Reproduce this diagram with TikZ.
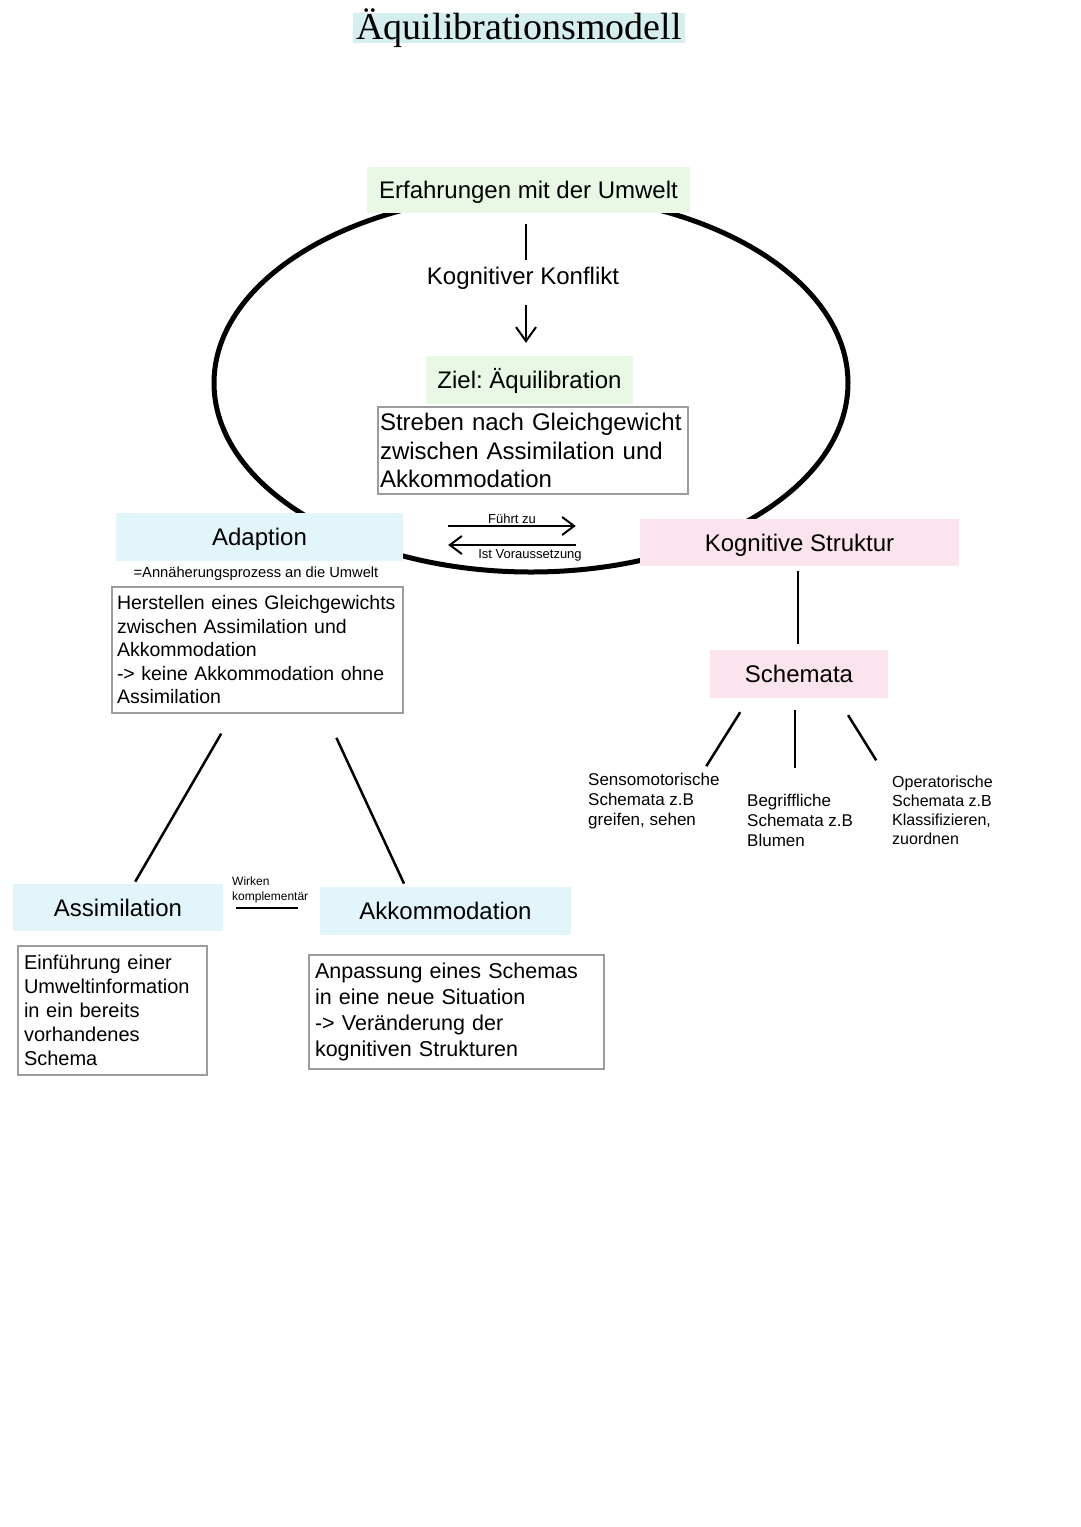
\documentclass[tikz,border=0pt]{standalone}
\usepackage{fontspec}
\setmainfont{Liberation Serif}
\setsansfont{Liberation Sans}
\usepackage{tikz}
\usetikzlibrary{arrows.meta,positioning}
\definecolor{titleteal}{HTML}{D5EEEE}
\definecolor{boxgreen}{HTML}{E8F8E5}
\definecolor{boxblue}{HTML}{E2F5FA}
\definecolor{boxpink}{HTML}{FCE4EF}
\definecolor{framegray}{HTML}{9C9C9C}
\tikzstyle{titlebox}  = [fill=titleteal,inner xsep=3pt,inner ysep=4pt,text height=22pt,text depth=0pt,font=\fontsize{38}{42}\selectfont]
\tikzstyle{headbox}   = [inner sep=0pt,text height=17pt,text depth=0pt,font=\sffamily\fontsize{24}{28}\selectfont]
\tikzstyle{greenbox}  = [headbox,fill=boxgreen]
\tikzstyle{bluebox}   = [headbox,fill=boxblue]
\tikzstyle{pinkbox}   = [headbox,fill=boxpink]
\tikzstyle{descbox}   = [draw=framegray,line width=1.5pt,fill=white,align=left,inner ysep=0pt]
\tikzstyle{note}      = [inner sep=0pt,align=left,font=\sffamily\fontsize{17}{20}\selectfont]
\tikzstyle{flowlabel} = [inner sep=1.5pt,font=\sffamily\fontsize{13}{15}\selectfont]
\tikzstyle{link}      = [line width=2.5pt]
\tikzstyle{flow}      = [line width=2pt,-{Straight Barb[length=12pt,width=18pt]}]
\tikzstyle{ring}      = [line width=5pt]

\begin{document}
\frenchspacing
\begin{tikzpicture}[x=1pt,y=-1pt]
\useasboundingbox[fill=white] (0,0) rectangle (1080,1527);

% cycle behind the boxes
\draw[ring] (531,383) ellipse [x radius=317, y radius=189];

\node[titlebox,anchor=base] (title) at (519,39) {Äquilibrationsmodell};

\node[greenbox,minimum width=323pt,minimum height=46pt] (erf)  at (528.5,190) {Erfahrungen mit der Umwelt};
\node[headbox]                                          (konf) at (523,276)   {Kognitiver Konflikt};
\node[greenbox,minimum width=207pt,minimum height=48pt] (ziel) at (529.5,380) {Ziel: Äquilibration};
\node[descbox,text width=306pt,inner xsep=2pt,minimum height=87pt,font=\sffamily\fontsize{24}{28.5}\selectfont,
      below=2pt of ziel,xshift=3.5pt] (streben) {Streben nach Gleichgewicht\\zwischen Assimilation und\\Akkommodation};

\node[bluebox,minimum width=287pt,minimum height=48pt] (adapt) at (259.5,537) {Adaption};
\node[flowlabel,inner sep=0pt,font=\sffamily\fontsize{14.7}{16}\selectfont,below=5pt of adapt,xshift=-3.5pt] (annae) {=Annäherungsprozess an die Umwelt};
\node[descbox,text width=281pt,inner xsep=5pt,minimum height=126pt,font=\sffamily\fontsize{19.5}{23.5}\selectfont] (herst) at (257.5,650)
      {Herstellen eines Gleichgewichts\\zwischen Assimilation und\\Akkommodation\\-> keine Akkommodation ohne\\Assimilation};

\node[pinkbox,minimum width=319pt,minimum height=47pt] (kog)   at (799.5,542.5) {Kognitive Struktur};
\node[pinkbox,minimum width=178pt,minimum height=48pt] (schem) at (799,674)     {Schemata};
\node[note,anchor=north west] (sens) at (588,773) {Sensomotorische\\Schemata z.B\\greifen, sehen};
\node[note,anchor=north west] (begr) at (747,794) {Begriffliche\\Schemata z.B\\Blumen};
\node[note,anchor=north west,font=\sffamily\fontsize{16}{19}\selectfont] (oper) at (892,776) {Operatorische\\Schemata z.B\\Klassifizieren,\\zuordnen};

\node[bluebox,minimum width=210pt,minimum height=47pt] (assim) at (118,907.5) {Assimilation};
\node[bluebox,minimum width=251pt,minimum height=48pt] (akk)   at (445.5,911) {Akkommodation};
\node[note,anchor=north west,font=\sffamily\fontsize{12}{15}\selectfont] (wirk) at (232,876.5) {Wirken\\komplementär};
\node[descbox,text width=177pt,inner xsep=6pt,minimum height=129pt,font=\sffamily\fontsize{20}{24}\selectfont,
      below=14pt of assim,xshift=-5.5pt] (assimtext) {Einführung einer\\Umweltinformation\\in ein bereits\\vorhandenes\\Schema};
\node[descbox,text width=283pt,inner xsep=6pt,minimum height=114pt,font=\sffamily\fontsize{21.5}{26}\selectfont,
      below=19pt of akk,xshift=11pt] (akktext) {Anpassung eines Schemas\\in eine neue Situation\\-> Veränderung der\\kognitiven Strukturen};

% connectors
\draw[link,line width=2pt,shorten <=11pt,shorten >=7pt] ([xshift=-2.5pt]erf.south) -- ([xshift=3pt]konf.north);
\draw[flow,-{Straight Barb[length=14pt,width=20pt]},shorten <=20pt,shorten >=13pt] ([xshift=3pt]konf.south) -- ([xshift=-3.5pt]ziel.north);

\draw[flow,shorten <=45pt,shorten >=64pt] ([yshift=11pt]adapt.east) -- node[flowlabel,above,pos=0.46] {Führt zu} ([yshift=16.5pt]kog.west);
\draw[flow,shorten <=64pt,shorten >=45pt] ([yshift=-2.5pt]kog.west) -- node[flowlabel,below,inner sep=3.5pt,pos=0.464] {Ist Voraussetzung} ([yshift=-8pt]adapt.east);

\draw[link,shorten <=5pt,shorten >=6pt] ([xshift=-1.5pt]kog.south) -- ([xshift=-1pt]schem.north);
\draw[link,shorten <=16.5pt,shorten >=8pt] ([xshift=-50pt]schem.south) -- ([xshift=114pt]sens.north west);
\draw[link,shorten <=12pt,shorten >=26pt]  ([xshift=-4pt]schem.south)  -- ([xshift=48pt]begr.north west);
\draw[link,shorten <=20pt,shorten >=18.5pt] ([xshift=38.5pt]schem.south) -- ([xshift=-6pt]oper.north west);

\draw[link,shorten <=23pt,shorten >=2.5pt]   ([xshift=121.5pt]herst.south west) -- ([xshift=16pt]assim.north);
\draw[link,shorten <=26.5pt,shorten >=3.5pt] ([xshift=214pt]herst.south west)   -- ([xshift=-40pt]akk.north);
\draw[link,shorten <=13pt,shorten >=22pt] ([yshift=-0.5pt]assim.east) -- ([yshift=3pt]akk.west);
\end{tikzpicture}
\end{document}
